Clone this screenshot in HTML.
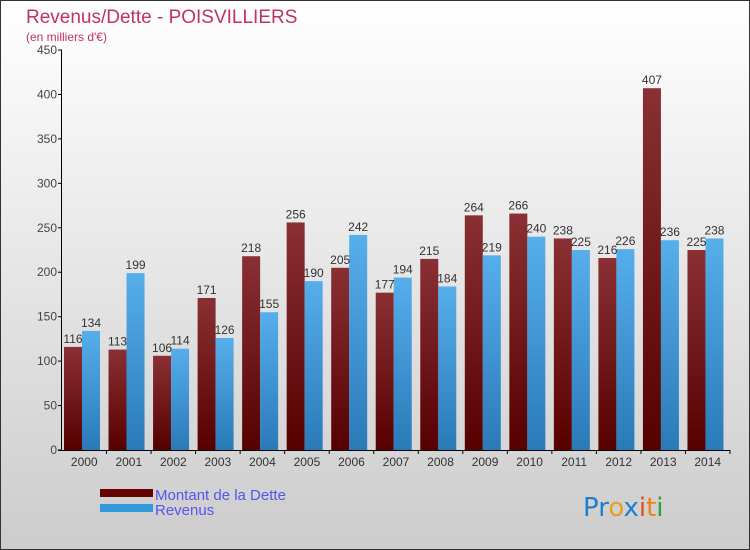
<!DOCTYPE html>
<html><head><meta charset="utf-8"><style>
body{margin:0}
svg{display:block;font-family:"Liberation Sans",sans-serif}
</style></head><body>
<svg id="c" width="750" height="550" viewBox="0 0 750 550" xmlns="http://www.w3.org/2000/svg">
<defs>
<linearGradient id="bg" x1="0" y1="0" x2="0" y2="1"><stop offset="0" stop-color="#ffffff"/><stop offset="1" stop-color="#cccccc"/></linearGradient>
<linearGradient id="gd" x1="0" y1="0" x2="0" y2="1"><stop offset="0" stop-color="#8a3034"/><stop offset="1" stop-color="#560000"/></linearGradient>
<linearGradient id="gr" x1="0" y1="0" x2="0" y2="1"><stop offset="0" stop-color="#56aeea"/><stop offset="1" stop-color="#2a7ab8"/></linearGradient>
</defs>
<rect x="0.5" y="0.5" width="749" height="549" fill="url(#bg)" stroke="#333"/>
<text x="26" y="23" font-size="19" fill="#c0306a">Revenus/Dette - POISVILLIERS</text>
<text x="26" y="41" font-size="12" fill="#c0306a">(en milliers d'€)</text>
<g id="plot"></g>
<g>
<rect x="100" y="489" width="53" height="8" fill="#650000"/>
<text x="155" y="500" font-size="15" fill="#5555ee">Montant de la Dette</text>
<rect x="100" y="504" width="53" height="8" fill="#3399dd"/>
<text x="155" y="515" font-size="15" fill="#5555ee">Revenus</text>
</g>
<g font-size="26" font-family="'DejaVu Sans',sans-serif">
<text x="583" y="516"><tspan fill="#1e7fd0">Pr</tspan><tspan fill="#e8a020">o</tspan><tspan fill="#1e7fd0">x</tspan><tspan fill="#e05020">i</tspan><tspan fill="#f08010">t</tspan><tspan fill="#30a030">i</tspan></text>
</g>
</svg>
<script>
const categories=["2000","2001","2002","2003","2004","2005","2006","2007","2008","2009","2010","2011","2012","2013","2014"];
const debtValues=[116,113,106,171,218,256,205,177,215,264,266,238,216,407,225];
const revenueValues=[134,199,114,126,155,190,242,194,184,219,240,225,226,236,238];
const yTicks=[0,50,100,150,200,250,300,350,400,450];
const NS="http://www.w3.org/2000/svg";
const g=document.getElementById('plot');
const x0=62,x1=730,yB=450,yT=50,yMax=450;
const y=v=>yB-(v/yMax)*(yB-yT);
const gw=(x1-x0)/categories.length;
function mk(t,a,txt){const e=document.createElementNS(NS,t);for(const k in a)e.setAttribute(k,a[k]);if(txt!=null)e.textContent=txt;g.appendChild(e);return e;}
yTicks.forEach(t=>{
 const l=mk('line',{x1:x0-4,x2:x0,y1:y(t),y2:y(t),stroke:'#000'});
 
 
 const tx=mk('text',{x:x0-5,y:y(t)+4,'font-size':12,fill:'#444','text-anchor':'end'},t);
 
 
});
categories.forEach((c,i)=>{
 const gx=x0+i*gw;
 const d=debtValues[i],r=revenueValues[i];
 const b1=mk('rect',{x:gx+2,y:y(d),width:18,height:yB-y(d),fill:'url(#gd)'});
 
 
 const b2=mk('rect',{x:gx+20,y:y(r),width:18,height:yB-y(r),fill:'url(#gr)'});
 
 
 const l1=mk('text',{x:gx+11,y:y(d)-4,'font-size':12,fill:'#333','text-anchor':'middle'},d);
 
 
 const l2=mk('text',{x:gx+29,y:y(r)-4,'font-size':12,fill:'#333','text-anchor':'middle'},r);
 
 
 const tk=mk('line',{x1:gx+gw,x2:gx+gw,y1:yB,y2:yB+4,stroke:'#000'});
 
 
 const xl=mk('text',{x:gx+gw/2,y:yB+16,'font-size':12,fill:'#333','text-anchor':'middle'},c);
 
 
});
const ax=mk('line',{x1:x0-0.5,x2:x0-0.5,y1:yT,y2:yB,stroke:'#000'});


const bx=mk('line',{x1:x0-4,x2:x1,y1:yB+0.5,y2:yB+0.5,stroke:'#000'});


</script>
</body></html>
